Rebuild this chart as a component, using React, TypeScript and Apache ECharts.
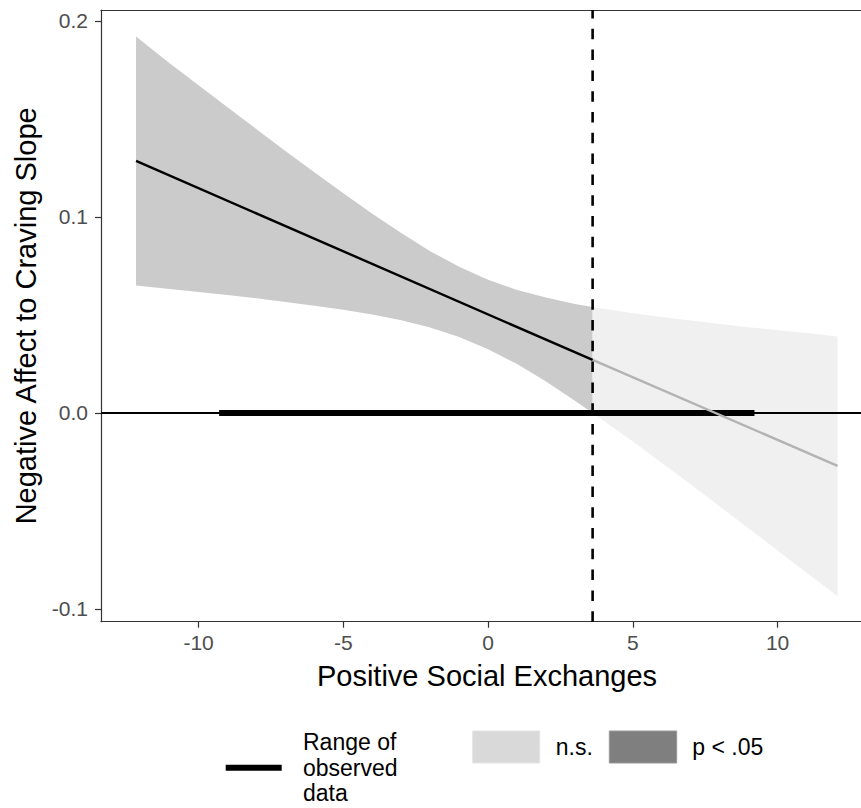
import React, { useEffect, useRef } from "react";
import * as echarts from "echarts";

// Axis extents and ticks
const X_MIN = -13.37;
const X_MAX = 12.88;
const Y_MIN = -0.1065;
const Y_MAX = 0.2055;
const xTicks = [-10, -5, 0, 5, 10];
const yTicks = [-0.1, 0, 0.1, 0.2];

// Confidence band, significant region (p < .05)
const sigX = [-12.16, -11, -10, -9, -8, -7, -6, -5, -4, -3, -2, -1, 0, 1, 2, 3, 3.61];
const sigLower = [0.065, 0.0632, 0.0617, 0.0601, 0.0585, 0.0566, 0.0547, 0.0526, 0.0502, 0.0472, 0.0435, 0.0387, 0.0325, 0.0249, 0.016, 0.0062, 0.0];
const sigUpper = [0.192, 0.1784, 0.1671, 0.1559, 0.1447, 0.1336, 0.1227, 0.112, 0.1016, 0.0918, 0.0825, 0.0745, 0.0679, 0.0627, 0.0588, 0.0556, 0.054];

// Confidence band, non-significant region
const nsX = [3.61, 5, 6, 7, 8, 9, 10, 11, 12.07];
const nsLower = [0.0, -0.0146, -0.0255, -0.0365, -0.0477, -0.0589, -0.0702, -0.0815, -0.0935];
const nsUpper = [0.054, 0.0508, 0.0489, 0.0471, 0.0453, 0.0437, 0.0422, 0.0407, 0.039];

// Simple slope line
const sigLineX = [-12.16, 3.61];
const sigLineY = [0.1285, 0.027];
const nsLineX = [3.61, 12.07];
const nsLineY = [0.027, -0.027];

// Johnson-Neyman point and observed range
const jnPoint = 3.61;
const observedRange = [-9.29, 9.2];

const FONT = "'Liberation Sans', Arial, Helvetica, sans-serif";
const BORDER = { color: "#333333", width: 1.2 };

function bandSeries(xs: number[], lo: number[], hi: number[], fill: string) {
  return {
    type: "custom",
    coordinateSystem: "cartesian2d",
    xAxisIndex: 0,
    yAxisIndex: 0,
    silent: true,
    z: 1,
    data: [[xs[0], lo[0]]],
    renderItem: (_params: any, api: any) => {
      const pts: number[][] = [];
      for (let i = 0; i < xs.length; i++) pts.push(api.coord([xs[i], hi[i]]));
      for (let i = xs.length - 1; i >= 0; i--) pts.push(api.coord([xs[i], lo[i]]));
      return { type: "polygon", shape: { points: pts }, style: { fill, stroke: null } };
    },
  };
}

function lineSeries(data: number[][], color: string, width: number, type: any = "solid", z = 3) {
  return {
    type: "line",
    xAxisIndex: 0,
    yAxisIndex: 0,
    data,
    symbol: "none",
    silent: true,
    z,
    lineStyle: { color, width, type, cap: "butt" },
  };
}

export default function App() {
  const ref = useRef<HTMLDivElement>(null);
  useEffect(() => {
    if (!ref.current) return;
    const chart = echarts.init(ref.current, undefined, { renderer: "svg" });
    const option: any = {
      animation: false,
      backgroundColor: "#ffffff",
      textStyle: { fontFamily: FONT },
      grid: {
        left: 101,
        right: 0,
        top: 10,
        bottom: 186.3,
        show: false,
        containLabel: false,
      },
      xAxis: [
        {
          type: "value",
          position: "bottom",
          min: X_MIN,
          max: X_MAX,
          splitLine: { show: false },
          axisLine: { show: true, onZero: false, lineStyle: BORDER },
          axisTick: { show: true, customValues: xTicks, length: 6, lineStyle: BORDER },
          axisLabel: { customValues: xTicks, margin: 10, fontSize: 21, color: "#4d4d4d", fontFamily: FONT },
          name: "Positive Social Exchanges",
          nameLocation: "middle",
          nameGap: 40,
          nameTextStyle: { fontSize: 29, color: "#000000", fontFamily: FONT, padding: [0, 0, 0, 12] },
        },
        {
          type: "value",
          position: "top",
          min: X_MIN,
          max: X_MAX,
          splitLine: { show: false },
          axisLine: { show: true, onZero: false, lineStyle: BORDER },
          axisTick: { show: false },
          axisLabel: { show: false },
        },
      ],
      yAxis: {
        type: "value",
        position: "left",
        min: Y_MIN,
        max: Y_MAX,
        splitLine: { show: false },
        axisLine: { show: true, onZero: false, lineStyle: BORDER },
        axisTick: { show: true, customValues: yTicks, length: 6, lineStyle: BORDER },
        axisLabel: {
          customValues: yTicks,
          margin: 13,
          fontSize: 21,
          color: "#4d4d4d",
          fontFamily: FONT,
          formatter: (v: number) => v.toFixed(1),
        },
        name: "Negative Affect to Craving Slope",
        nameLocation: "middle",
        nameGap: 54,
        nameTextStyle: { fontSize: 29, color: "#000000", fontFamily: FONT },
      },
      series: [
        bandSeries(sigX, sigLower, sigUpper, "#cbcbcb"),
        bandSeries(nsX, nsLower, nsUpper, "#f0f0f0"),
        lineSeries([[X_MIN, 0], [X_MAX, 0]], "#000000", 2, "solid", 3),
        lineSeries([[observedRange[0], 0], [observedRange[1], 0]], "#000000", 6, "solid", 4),
        lineSeries(nsLineX.map((x, i) => [x, nsLineY[i]]), "#b3b3b3", 2.4, "solid", 5),
        lineSeries(sigLineX.map((x, i) => [x, sigLineY[i]]), "#000000", 2.4, "solid", 5),
        lineSeries([[jnPoint, Y_MIN], [jnPoint, Y_MAX]], "#000000", 2.6, [10.5, 10.3], 6),
      ],
      graphic: [
        { type: "line", shape: { x1: 225.7, y1: 767.7, x2: 281.7, y2: 767.7 }, style: { stroke: "#000000", lineWidth: 6 } },
        { type: "text", x: 303, y: 742, style: { text: "Range of", fontSize: 23, fontFamily: FONT, fill: "#000000", verticalAlign: "middle", align: "left" } },
        { type: "text", x: 303, y: 768, style: { text: "observed", fontSize: 23, fontFamily: FONT, fill: "#000000", verticalAlign: "middle", align: "left" } },
        { type: "text", x: 303, y: 793, style: { text: "data", fontSize: 23, fontFamily: FONT, fill: "#000000", verticalAlign: "middle", align: "left" } },
        { type: "rect", shape: { x: 472.7, y: 731, width: 67, height: 32 }, style: { fill: "#d9d9d9", stroke: "#e4e4e4", lineWidth: 1 } },
        { type: "text", x: 555.7, y: 747, style: { text: "n.s.", fontSize: 23, fontFamily: FONT, fill: "#000000", verticalAlign: "middle", align: "left" } },
        { type: "rect", shape: { x: 609.3, y: 731, width: 67.4, height: 32 }, style: { fill: "#7f7f7f", stroke: "#999999", lineWidth: 1 } },
        { type: "text", x: 692.3, y: 747, style: { text: "p < .05", fontSize: 23, fontFamily: FONT, fill: "#000000", verticalAlign: "middle", align: "left" } },
      ],
    };
    chart.setOption(option);
    return () => chart.dispose();
  }, []);
  return (
    <div
      ref={ref}
      style={{ position: "fixed", left: 0, top: 0, width: 861, height: 808, background: "#fff" }}
    />
  );
}
